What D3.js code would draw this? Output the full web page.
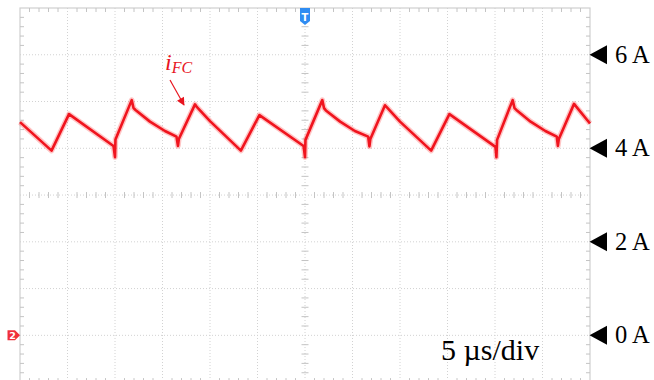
<!DOCTYPE html>
<html lang="en">
<head>
    <meta charset="UTF-8">
    <title>iFC scope capture</title>
    <script src="https://d3js.org/d3.v7.min.js"></script>
    <style>
        body { margin: 0; background: #fff; }
        svg { display: block; }
        .grid line { stroke: #d2d2d2; stroke-width: 1; stroke-dasharray: 1,2; }
        .frame { fill: none; stroke: #cfcfcf; stroke-width: 1.2; }
        .ticks line { stroke: #c4c4c4; stroke-width: 1; }
        .lbl { font-family: "Liberation Serif", "Times New Roman", serif; fill: #000; }
    </style>
</head>
<body>
    <svg width="654" height="380"></svg>

    <script>
        // time in microseconds, current in amperes
        const traceT = [
            0.00, 3.32, 5.16, 9.84, 10.00, 10.05, 11.76, 11.95, 12.16, 13.68, 15.26, 16.47, 16.63, 16.72, 18.42, 18.63,
            20.00, 23.25, 25.20, 29.85, 30.00, 30.05, 31.82, 32.00, 32.20, 33.70, 35.25, 36.65, 36.78, 36.88, 38.42, 38.65,
            40.00, 43.28, 45.20, 50.05, 50.15, 50.22, 51.86, 52.05, 52.25, 53.75, 55.30, 56.50, 56.62, 56.72, 58.32, 58.55,
            60.00
        ];
        const traceI = [
            4.56, 3.95, 4.73, 4.05, 3.81, 4.19, 5.03, 4.86, 4.82, 4.57, 4.37, 4.25, 4.05, 4.20, 4.94, 4.88,
            4.58, 3.95, 4.71, 4.05, 3.81, 4.18, 5.03, 4.86, 4.81, 4.57, 4.37, 4.25, 4.04, 4.20, 4.92, 4.87,
            4.57, 3.95, 4.73, 4.03, 3.81, 4.18, 5.03, 4.86, 4.82, 4.57, 4.37, 4.25, 4.05, 4.20, 4.95, 4.89,
            4.53
        ];

        const levelLabels = [0, 2, 4, 6];     // A, marked on the right
        const timeBase = "5 \u00b5s/div";
        const traceName = ["i", "FC"];

        const svg = d3.select("svg");
        const pLeft = 20, pRight = 590, pTop = 8, pBottom = 382.1;

        const x = d3.scaleLinear().domain([0, 60]).range([pLeft, pRight]);
        const y = d3.scaleLinear().domain([-1, 7]).range([pBottom, pTop]);

        // dotted graticule
        const grid = svg.append("g").attr("class", "grid");
        grid.selectAll(".v").data(d3.range(5, 60, 5)).enter().append("line")
            .attr("x1", d => x(d)).attr("x2", d => x(d))
            .attr("y1", pTop).attr("y2", pBottom);
        grid.selectAll(".h").data(d3.range(0, 7, 1)).enter().append("line")
            .attr("x1", pLeft).attr("x2", pRight)
            .attr("y1", d => y(d)).attr("y2", d => y(d));

        svg.append("rect").attr("class", "frame")
            .attr("x", pLeft).attr("y", pTop)
            .attr("width", pRight - pLeft).attr("height", pBottom - pTop);

        // minor ticks on border and centre axes
        const ticks = svg.append("g").attr("class", "ticks");
        const minorT = d3.range(1, 60, 1).filter(d => d % 5 !== 0);
        const minorI = d3.range(-0.8, 7, 0.2).filter(d => Math.abs(d - Math.round(d)) > 0.01);

        ticks.selectAll(".tt").data(minorT).enter().append("line")
            .attr("x1", d => x(d)).attr("x2", d => x(d))
            .attr("y1", pTop).attr("y2", pTop + 4);
        ticks.selectAll(".tb").data(minorT).enter().append("line")
            .attr("x1", d => x(d)).attr("x2", d => x(d))
            .attr("y1", pBottom - 4).attr("y2", pBottom);
        ticks.selectAll(".tc").data(minorT).enter().append("line")
            .attr("x1", d => x(d)).attr("x2", d => x(d))
            .attr("y1", y(3) - 3).attr("y2", y(3) + 3);
        ticks.selectAll(".tl").data(minorI).enter().append("line")
            .attr("x1", pLeft).attr("x2", pLeft + 4)
            .attr("y1", d => y(d)).attr("y2", d => y(d));
        ticks.selectAll(".tr").data(minorI).enter().append("line")
            .attr("x1", pRight - 4).attr("x2", pRight)
            .attr("y1", d => y(d)).attr("y2", d => y(d));
        ticks.selectAll(".tm").data(minorI).enter().append("line")
            .attr("x1", x(30) - 3.5).attr("x2", x(30) + 3.5)
            .attr("y1", d => y(d)).attr("y2", d => y(d));

        // trace
        const pts = traceT.map((t, i) => [t, traceI[i]]);
        const line = d3.line().x(d => x(d[0])).y(d => y(d[1]));
        svg.append("path").datum(pts)
            .attr("d", line)
            .attr("fill", "none")
            .attr("stroke", "#ff5a5a")
            .attr("stroke-opacity", 0.35)
            .attr("stroke-width", 5.5)
            .attr("stroke-linejoin", "round");
        svg.append("path").datum(pts)
            .attr("d", line)
            .attr("fill", "none")
            .attr("stroke", "#f0141e")
            .attr("stroke-width", 2.6)
            .attr("stroke-linejoin", "round");

        // trigger marker
        const tx = x(30);
        svg.append("path")
            .attr("d", `M${tx - 5},${pTop} L${tx + 5},${pTop} L${tx + 5},${pTop + 13} L${tx},${pTop + 17} L${tx - 5},${pTop + 13} Z`)
            .attr("fill", "#2f8cf2");
        svg.append("text").attr("x", tx).attr("y", pTop + 13)
            .attr("text-anchor", "middle")
            .attr("font-family", "DejaVu Sans, sans-serif").attr("font-size", 10).attr("font-weight", "bold")
            .attr("fill", "#fff").text("T");

        // channel 2 ground marker
        const gy = y(0);
        svg.append("path")
            .attr("d", `M7.5,${gy - 5} L15,${gy - 5} L20,${gy} L15,${gy + 5} L7.5,${gy + 5} Z`)
            .attr("fill", "#f0303a");
        svg.append("text").attr("x", 12.5).attr("y", gy + 3.5)
            .attr("text-anchor", "middle")
            .attr("font-family", "DejaVu Sans, sans-serif").attr("font-size", 9.5).attr("font-weight", "bold")
            .attr("fill", "#fff").text("2");

        // level labels on the right
        const lv = svg.append("g").selectAll("g").data(levelLabels).enter().append("g")
            .attr("transform", d => `translate(0,${y(d)})`);
        lv.append("path").attr("d", "M589.5,0 L607,-9.5 L607,9.5 Z").attr("fill", "#000");
        lv.append("text").attr("class", "lbl")
            .attr("x", 615).attr("y", 8)
            .attr("font-size", 24.5)
            .text(d => d + " A");

        // timebase
        svg.append("text").attr("class", "lbl")
            .attr("x", 441).attr("y", 360)
            .attr("font-size", 30)
            .text(timeBase);

        // trace name with arrow
        const nm = svg.append("text").attr("x", 165).attr("y", 70)
            .attr("font-family", "Liberation Serif, Times New Roman, serif")
            .attr("font-style", "italic").attr("fill", "#e8141e");
        nm.append("tspan").attr("font-size", 24).text(traceName[0]);
        nm.append("tspan").attr("font-size", 16).attr("dy", 3).text(traceName[1]);

        svg.append("defs").append("marker")
            .attr("id", "ah")
            .attr("viewBox", "0 -5 10 10")
            .attr("refX", 9).attr("refY", 0)
            .attr("orient", "auto")
            .attr("markerWidth", 9).attr("markerHeight", 8)
            .attr("markerUnits", "userSpaceOnUse")
            .append("path").attr("d", "M0,-5 L10,0 L0,5 Z").attr("fill", "#e8141e");
        svg.append("line")
            .attr("x1", 170).attr("y1", 80).attr("x2", 184).attr("y2", 105)
            .attr("stroke", "#e8141e").attr("stroke-width", 1.2)
            .attr("marker-end", "url(#ah)");
    </script>
</body>
</html>
